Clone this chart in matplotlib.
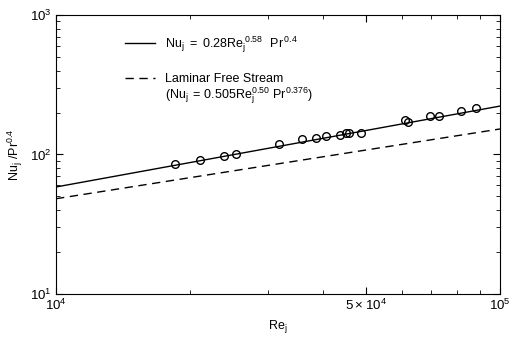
import numpy as np
import matplotlib
matplotlib.use('Agg')
import matplotlib.pyplot as plt
from matplotlib.ticker import LogLocator, NullFormatter, FixedLocator, FixedFormatter

plt.rcParams['font.family'] = ['Liberation Sans', 'DejaVu Sans']
plt.rcParams['mathtext.default'] = 'regular'

# measured jet Reynolds numbers and Nu_j / Pr^0.4
re_data = [1.85e4, 2.11e4, 2.39e4, 2.54e4, 3.18e4, 3.59e4, 3.85e4, 4.05e4, 4.35e4,
           4.49e4, 4.58e4, 4.86e4, 6.12e4, 6.21e4, 6.97e4, 7.30e4, 8.18e4, 8.84e4]
nu_data = [85.5, 90.9, 98.0, 100.3, 118.9, 129.8, 131.3, 136.4, 137.3,
           143.3, 142.6, 142.6, 176.8, 170.2, 187.9, 189.7, 205.0, 214.4]

# correlation constants
c_turb, m_turb, n_turb = 0.28, 0.58, 0.4
c_lam, m_lam, n_lam = 0.505, 0.50, 0.376
prandtl = 7.0

re_line = np.logspace(4, 5, 100)
nu_turb = c_turb * re_line ** m_turb
nu_lam = c_lam * re_line ** m_lam * prandtl ** (n_lam - n_turb)

fig = plt.figure(figsize=(5.12, 3.37), dpi=100)
ax = fig.add_axes([0.1094, 0.1276, 0.8672, 0.8279])

ax.plot(re_line, nu_turb, color='black', lw=1.0,
        label=r'$Nu_j\;=\;0.28Re_j^{\,0.58}\ \ Pr^{\,0.4}$')
ax.plot(re_line, nu_lam, color='black', lw=1.0, ls=(0, (6, 4)),
        label='Laminar Free Stream')
ax.plot(re_data, nu_data, 'o', mfc='none', mec='black', mew=1.0, ms=5.5)

ax.set_xscale('log')
ax.set_yscale('log')
ax.set_xlim(1e4, 1e5)
ax.set_ylim(10, 1000)

ax.xaxis.set_major_locator(FixedLocator([1e4, 5e4, 1e5]))
ax.xaxis.set_major_formatter(FixedFormatter([r'$10^4$', r'$5\times10^4$', r'$10^5$']))
ax.xaxis.set_minor_locator(LogLocator(base=10, subs=np.arange(2, 10)))
ax.xaxis.set_minor_formatter(NullFormatter())
ax.yaxis.set_major_locator(FixedLocator([10, 100, 1000]))
ax.yaxis.set_major_formatter(FixedFormatter([r'$10^1$', r'$10^2$', r'$10^3$']))
ax.yaxis.set_minor_locator(LogLocator(base=10, subs=np.arange(2, 10)))
ax.yaxis.set_minor_formatter(NullFormatter())

ax.tick_params(which='both', direction='in', top=True, right=True, labelsize=9.5)
ax.tick_params(which='major', length=5, width=0.8)
ax.tick_params(which='minor', length=3, width=0.6)
ax.tick_params(axis='x', pad=3)

ax.set_xlabel(r'$Re_j$', fontsize=9, labelpad=3)
ax.set_ylabel(r'$Nu_j\ /Pr^{0.4}$', fontsize=9, labelpad=3)

leg = ax.legend(loc='upper left', bbox_to_anchor=(0.13, 0.97), frameon=False,
                fontsize=9, handlelength=2.4, handletextpad=0.8, labelspacing=1.45)
ax.text(0.245, 0.71, r'$(Nu_j\,=\,0.505Re_j^{0.50}\ Pr^{0.376})$',
        transform=ax.transAxes, fontsize=9, va='center', ha='left')

fig.savefig('out.png', dpi=100)
